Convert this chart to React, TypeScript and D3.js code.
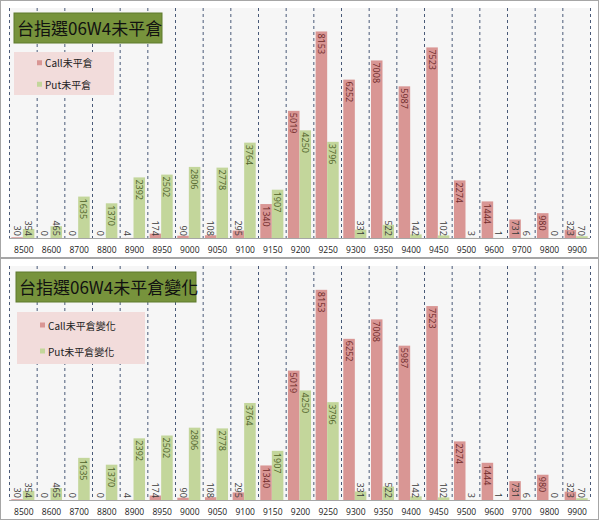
import React, { useEffect, useRef } from "react";
import * as d3 from "d3";

// strike prices
const strikes = ["8500", "8600", "8700", "8800", "8900", "8950", "9000", "9050", "9100", "9150", "9200",
  "9250", "9300", "9350", "9400", "9450", "9500", "9600", "9700", "9800", "9900"];

// open interest (top panel)
const callOI = [30, 0, 0, 0, 4, 174, 90, 108, 295, 1340, 5019, 8153, 6252, 7008, 5987, 7523, 2274, 1444, 731, 980, 323];
const putOI = [354, 465, 1635, 1370, 2392, 2502, 2806, 2778, 3764, 1907, 4250, 3796, 331, 522, 142, 102, 3, 1, 6, 0, 70];

// open interest change (bottom panel)
const callChange = [30, 0, 0, 0, 4, 174, 90, 108, 295, 1340, 5019, 8153, 6252, 7008, 5987, 7523, 2274, 1444, 731, 980, 323];
const putChange = [354, 465, 1635, 1370, 2392, 2502, 2806, 2778, 3764, 1907, 4250, 3796, 331, 522, 142, 102, 3, 1, 6, 0, 70];

const CALL = "#d99694";
const PUT = "#c3d69b";

interface PanelCfg {
  top: number;
  height: number;
  title: string;
  callName: string;
  putName: string;
  call: number[];
  put: number[];
  titleBox: [number, number, number, number];
  legendBox: [number, number, number, number];
}

const panels: PanelCfg[] = [
  {
    top: 0, height: 258, title: "台指選06W4未平倉", callName: "Call未平倉", putName: "Put未平倉",
    call: callOI, put: putOI, titleBox: [14, 13, 148, 30], legendBox: [14, 52, 100, 43],
  },
  {
    top: 258, height: 262, title: "台指選06W4未平倉變化", callName: "Call未平倉變化", putName: "Put未平倉變化",
    call: callChange, put: putChange, titleBox: [16, 14, 180, 30], legendBox: [17, 54, 128, 52],
  },
];

const DIGIT = 5.2;

export default function App() {
  const ref = useRef<SVGSVGElement>(null);

  useEffect(() => {
    const svg = d3.select(ref.current);
    svg.selectAll("*").remove();

    const x = d3.scaleBand().domain(strikes).range([9, 590]).padding(0);
    const inner = d3.scaleBand().domain(["call", "put"]).range([0, x.bandwidth()])
      .paddingInner(0).paddingOuter(0.2);

    panels.forEach((p) => {
      const g = svg.append("g").attr("transform", `translate(0,${p.top})`);
      const base = p.height - 20;
      const y = d3.scaleLinear().domain([0, 9000]).range([base, 10]);

      g.append("rect").attr("x", 0.5).attr("y", 0.5).attr("width", 598).attr("height", p.height - 1)
        .attr("fill", "#fff").attr("stroke", "#a6a6a6");

      // plot area
      g.append("rect").attr("x", x.range()[0]).attr("y", 8).attr("width", x.range()[1] - x.range()[0])
        .attr("height", base - 8).attr("fill", "#f6f6f6");

      // dashed category separators
      const edges = strikes.map((s) => x(s) as number).concat([x.range()[1]]);
      g.selectAll(".sep").data(edges).enter().append("line")
        .attr("x1", (d) => d + 0.5).attr("x2", (d) => d + 0.5)
        .attr("y1", 8).attr("y2", base)
        .attr("stroke", "#4a5a78").attr("stroke-dasharray", "3,3").attr("stroke-width", 1);

      // bars
      const rows = strikes.flatMap((s, i) => [
        { s, key: "call", v: p.call[i] },
        { s, key: "put", v: p.put[i] },
      ]);
      g.selectAll(".bar").data(rows).enter().append("rect")
        .attr("x", (d) => (x(d.s) as number) + (inner(d.key) as number))
        .attr("width", inner.bandwidth())
        .attr("y", (d) => y(d.v))
        .attr("height", (d) => base - y(d.v))
        .attr("fill", (d) => (d.key === "call" ? CALL : PUT));

      // rotated value labels
      g.selectAll(".lbl").data(rows).enter().append("text")
        .attr("transform", (d) => {
          const cx = (x(d.s) as number) + (inner(d.key) as number) + inner.bandwidth() / 2;
          const len = String(d.v).length * DIGIT;
          const top = y(d.v) + 2;
          const ty = top + len + 2 > base ? base - len - 2 : top;
          return `translate(${cx},${ty}) rotate(90)`;
        })
        .attr("dominant-baseline", "central")
        .attr("font-family", "'Open Sans', sans-serif")
        .attr("font-size", 9)
        .attr("fill", (d) => {
          const len = String(d.v).length * DIGIT;
          if (base - y(d.v) < len + 5) return "#3a3a3a";
          return d.key === "call" ? "#6e2a2a" : "#4f6228";
        })
        .text((d) => d.v);

      // x axis
      g.append("line").attr("x1", x.range()[0]).attr("x2", x.range()[1])
        .attr("y1", base + 0.5).attr("y2", base + 0.5).attr("stroke", "#a6a6a6");
      g.selectAll(".tick").data(strikes).enter().append("text")
        .attr("x", (d) => (x(d) as number) + x.bandwidth() / 2 + 1)
        .attr("y", base + 11)
        .attr("text-anchor", "middle").attr("dominant-baseline", "central")
        .attr("font-family", "'Open Sans', sans-serif").attr("font-size", 8.5).attr("fill", "#1a1a1a")
        .text((d) => d);

      // title
      const [tx, ty, tw, th] = p.titleBox;
      g.append("rect").attr("x", tx).attr("y", ty).attr("width", tw).attr("height", th)
        .attr("fill", "#77933c").attr("stroke", "#5f7a2c");
      g.append("text").attr("x", tx + 3).attr("y", ty + 22)
        .attr("font-family", "'Noto Sans CJK TC', sans-serif").attr("font-size", 17).attr("fill", "#111")
        .text(p.title);

      // legend
      const [lx, ly, lw, lh] = p.legendBox;
      g.append("rect").attr("x", lx).attr("y", ly).attr("width", lw).attr("height", lh).attr("fill", "#f2dcdb");
      const items = [
        { name: p.callName, color: CALL },
        { name: p.putName, color: PUT },
      ];
      const step = lh / 2;
      items.forEach((it, i) => {
        const cy = ly + step * (i + 0.5);
        g.append("rect").attr("x", lx + 23).attr("y", cy - 2.5).attr("width", 5).attr("height", 5).attr("fill", it.color);
        g.append("text").attr("x", lx + 31).attr("y", cy)
          .attr("dominant-baseline", "central")
          .attr("font-family", "'Noto Sans CJK TC', sans-serif").attr("font-size", 10).attr("fill", "#222")
          .text(it.name);
      });
    });
  }, []);

  return (
    <svg ref={ref} width={600} height={522} style={{ position: "absolute", left: 0, top: 0 }}></svg>
  );
}
